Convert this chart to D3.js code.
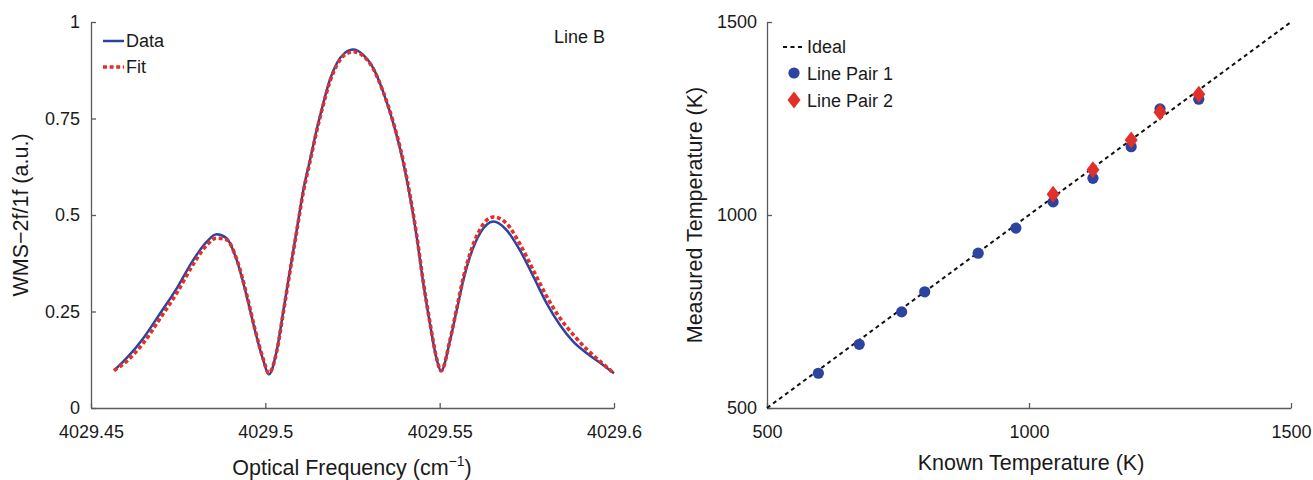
<!DOCTYPE html>
<html>
<head>
<meta charset="utf-8">
<title>WMS-2f/1f fit and temperature check</title>
<script src="https://d3js.org/d3.v7.min.js"></script>
<style>
  body { margin: 0; background: #fff; }
  svg { font-family: "Liberation Sans", Arial, Helvetica, sans-serif; }
</style>
</head>
<body>
<script>
// left panel: line B spectrum
var freq = [4029.4566, 4029.4602, 4029.465, 4029.4698, 4029.4746, 4029.4793, 4029.4832, 4029.486,
            4029.4889, 4029.4918, 4029.4947, 4029.497, 4029.4994, 4029.501, 4029.5033, 4029.5052,
            4029.5071, 4029.509, 4029.5109, 4029.5128, 4029.5147, 4029.5166, 4029.5185, 4029.5205,
            4029.5228, 4029.5252, 4029.5281, 4029.531, 4029.5338, 4029.5367, 4029.5396, 4029.5415,
            4029.5434, 4029.5453, 4029.5472, 4029.5492, 4029.5504, 4029.553, 4029.5549, 4029.5568,
            4029.5587, 4029.5616, 4029.5654, 4029.5692, 4029.573, 4029.5769, 4029.5807, 4029.5845,
            4029.5883, 4029.5922, 4029.596, 4029.6];
var wmsData = [0.097, 0.129, 0.181, 0.245, 0.310, 0.383, 0.431, 0.450,
               0.440, 0.383, 0.288, 0.202, 0.124, 0.087, 0.150, 0.254,
               0.358, 0.461, 0.565, 0.642, 0.720, 0.789, 0.850, 0.893,
               0.920, 0.929, 0.915, 0.880, 0.819, 0.738, 0.634, 0.547,
               0.444, 0.323, 0.219, 0.124, 0.096, 0.176, 0.254, 0.332,
               0.392, 0.453, 0.483, 0.461, 0.409, 0.340, 0.271, 0.215,
               0.172, 0.142, 0.117, 0.090];
var wmsFit = [0.097, 0.121, 0.168, 0.232, 0.298, 0.372, 0.422, 0.440,
              0.436, 0.385, 0.292, 0.205, 0.127, 0.090, 0.148, 0.250,
              0.355, 0.458, 0.560, 0.638, 0.716, 0.785, 0.845, 0.888,
              0.915, 0.923, 0.912, 0.878, 0.819, 0.740, 0.638, 0.551,
              0.448, 0.327, 0.222, 0.126, 0.096, 0.178, 0.258, 0.338,
              0.400, 0.463, 0.495, 0.478, 0.425, 0.356, 0.289, 0.233,
              0.190, 0.152, 0.121, 0.090];
var freqTicks = [4029.45, 4029.5, 4029.55, 4029.6];
var wmsTicks = [0, 0.25, 0.5, 0.75, 1];

// right panel: temperatures
var knownT1 = [598, 676, 757, 801, 903, 975, 1046, 1122, 1195, 1250, 1324];
var measT1  = [590, 665, 749, 801, 901, 966, 1034, 1095, 1177, 1275, 1300];
var knownT2 = [1046, 1122, 1195, 1250, 1324];
var measT2  = [1054, 1117, 1194, 1266, 1313];
var idealT = [500, 1500];
var tempTicks = [500, 1000, 1500];

var blue = "#2c43a0", red = "#e1302a", axisGrey = "#5a5a5a", textCol = "#1a1a1a";

var svg = d3.select("body").append("svg")
    .attr("width", 1313)
    .attr("height", 480);

function styleAxis(g) {
    g.attr("font-family", null).attr("font-size", 18);
    g.select(".domain").attr("stroke", axisGrey).attr("stroke-width", 1.3);
    g.selectAll(".tick line").attr("stroke", axisGrey).attr("stroke-width", 1.3);
    g.selectAll(".tick text").attr("fill", textCol);
}

// ---------- left ----------
var x1 = d3.scaleLinear().domain([4029.45, 4029.6]).range([91, 614]);
var y1 = d3.scaleLinear().domain([0, 1]).range([408, 22]);

svg.append("g").attr("transform", "translate(0,408)")
    .call(d3.axisBottom(x1).tickValues(freqTicks)
        .tickFormat(function(d){ return String(+d.toFixed(2)); })
        .tickSizeInner(-5).tickSizeOuter(0).tickPadding(17))
    .call(styleAxis);
svg.append("g").attr("transform", "translate(91,0)")
    .call(d3.axisLeft(y1).tickValues(wmsTicks)
        .tickFormat(function(d){ return String(d); })
        .tickSizeInner(-5).tickSizeOuter(0).tickPadding(11))
    .call(styleAxis);

var line1 = d3.line()
    .x(function(d, i){ return x1(freq[i]); })
    .y(function(d){ return y1(d); })
    .curve(d3.curveMonotoneX);

svg.append("path").datum(wmsData)
    .attr("d", line1).attr("fill", "none")
    .attr("stroke", blue).attr("stroke-width", 2.5);
svg.append("path").datum(wmsFit)
    .attr("d", line1).attr("fill", "none")
    .attr("stroke", red).attr("stroke-width", 3.6)
    .attr("stroke-dasharray", "4,2.6");

// legend
svg.append("line").attr("x1", 103).attr("x2", 124).attr("y1", 41).attr("y2", 41)
    .attr("stroke", blue).attr("stroke-width", 2.5);
svg.append("line").attr("x1", 103).attr("x2", 124).attr("y1", 67).attr("y2", 67)
    .attr("stroke", red).attr("stroke-width", 3.6).attr("stroke-dasharray", "4,2.6");
svg.append("text").attr("x", 126).attr("y", 47).attr("font-size", 18).attr("fill", textCol).text("Data");
svg.append("text").attr("x", 126).attr("y", 73).attr("font-size", 18).attr("fill", textCol).text("Fit");
svg.append("text").attr("x", 554).attr("y", 43).attr("font-size", 18).attr("fill", textCol).text("Line B");

// axis titles
var xt1 = svg.append("text").attr("x", 352).attr("y", 475).attr("text-anchor", "middle")
    .attr("font-size", 21.5).attr("fill", textCol).text("Optical Frequency (cm");
xt1.append("tspan").attr("font-size", 14).attr("dy", -9).text("\u22121");
xt1.append("tspan").attr("dy", 9).text(")");
svg.append("text").attr("transform", "translate(28,215) rotate(-90)")
    .attr("text-anchor", "middle").attr("font-size", 21.5).attr("fill", textCol)
    .text("WMS\u22122f/1f (a.u.)");

// ---------- right ----------
var x2 = d3.scaleLinear().domain([500, 1500]).range([767, 1291]);
var y2 = d3.scaleLinear().domain([500, 1500]).range([408, 22]);

svg.append("g").attr("transform", "translate(0,408)")
    .call(d3.axisBottom(x2).tickValues(tempTicks).tickFormat(d3.format("d"))
        .tickSizeInner(-5).tickSizeOuter(0).tickPadding(17))
    .call(styleAxis);
svg.append("g").attr("transform", "translate(767,0)")
    .call(d3.axisLeft(y2).tickValues(tempTicks).tickFormat(d3.format("d"))
        .tickSizeInner(-5).tickSizeOuter(0).tickPadding(10))
    .call(styleAxis);

svg.append("line")
    .attr("x1", x2(idealT[0])).attr("y1", y2(idealT[0]))
    .attr("x2", x2(idealT[1])).attr("y2", y2(idealT[1]))
    .attr("stroke", "#111").attr("stroke-width", 2).attr("stroke-dasharray", "4,3.5");

svg.selectAll("circle.p1").data(knownT1).enter().append("circle")
    .attr("class", "p1")
    .attr("cx", function(d){ return x2(d); })
    .attr("cy", function(d, i){ return y2(measT1[i]); })
    .attr("r", 5.6).attr("fill", blue);

var diamond = "M0,-8.5L6.5,0L0,8.5L-6.5,0Z";
svg.selectAll("path.p2").data(knownT2).enter().append("path")
    .attr("class", "p2")
    .attr("d", diamond)
    .attr("transform", function(d, i){ return "translate(" + x2(d) + "," + y2(measT2[i]) + ")"; })
    .attr("fill", red);

// legend
svg.append("line").attr("x1", 783).attr("x2", 804).attr("y1", 47).attr("y2", 47)
    .attr("stroke", "#111").attr("stroke-width", 2).attr("stroke-dasharray", "4,3.5");
svg.append("circle").attr("cx", 794).attr("cy", 73).attr("r", 5.6).attr("fill", blue);
svg.append("path").attr("d", diamond).attr("transform", "translate(794,100)").attr("fill", red);
svg.append("text").attr("x", 807).attr("y", 53).attr("font-size", 18).attr("fill", textCol).text("Ideal");
svg.append("text").attr("x", 807).attr("y", 80).attr("font-size", 18).attr("fill", textCol).text("Line Pair 1");
svg.append("text").attr("x", 807).attr("y", 107).attr("font-size", 18).attr("fill", textCol).text("Line Pair 2");

svg.append("text").attr("x", 1031).attr("y", 470).attr("text-anchor", "middle")
    .attr("font-size", 21.5).attr("fill", textCol).text("Known Temperature (K)");
svg.append("text").attr("transform", "translate(702,215) rotate(-90)")
    .attr("text-anchor", "middle").attr("font-size", 21.5).attr("fill", textCol)
    .text("Measured Temperature (K)");
</script>
</body>
</html>
